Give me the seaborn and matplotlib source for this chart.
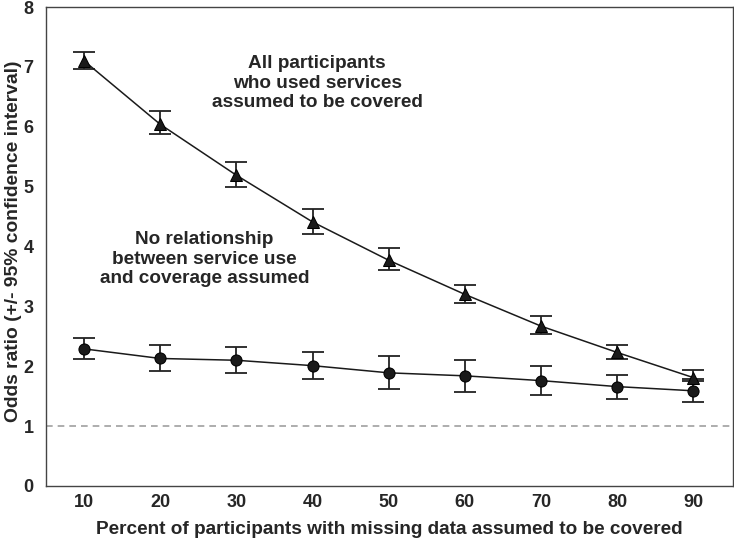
import matplotlib
matplotlib.use("Agg")
import matplotlib.pyplot as plt
from matplotlib import font_manager
import seaborn as sns
import pandas as pd
import numpy as np

# Data
pct = [10, 20, 30, 40, 50, 60, 70, 80, 90]
all_or = [7.10, 6.04, 5.19, 4.41, 3.77, 3.20, 2.67, 2.23, 1.81]
all_lo = [6.97, 5.88, 5.00, 4.21, 3.60, 3.05, 2.54, 2.12, 1.76]
all_hi = [7.25, 6.26, 5.41, 4.62, 3.97, 3.36, 2.84, 2.35, 1.93]
none_or = [2.29, 2.13, 2.10, 2.01, 1.89, 1.84, 1.76, 1.66, 1.59]
none_lo = [2.12, 1.92, 1.89, 1.78, 1.62, 1.57, 1.52, 1.46, 1.40]
none_hi = [2.47, 2.35, 2.32, 2.24, 2.17, 2.11, 2.00, 1.86, 1.79]
yticks = [0, 1, 2, 3, 4, 5, 6, 7, 8]

sns.set_theme(style="white")
plt.rcParams['font.family'] = ['Liberation Sans', 'DejaVu Sans']

names = {f.name for f in font_manager.fontManager.ttflist}
tick_family = ['Liberation Sans Narrow', 'Liberation Sans'] if 'Liberation Sans Narrow' in names else ['Liberation Sans']
tick_size = 14.5 if 'Liberation Sans Narrow' in names else 13

fig = plt.figure(figsize=(7.34, 5.45), dpi=100)
ax = fig.add_axes([46/734, 59/545, 687/734, 479/545])

df = pd.DataFrame({
    "pct": pct * 2,
    "or": all_or + none_or,
    "group": ["all"] * len(pct) + ["none"] * len(pct),
})

line_col = "#1a1a1a"
sns.lineplot(data=df, x="pct", y="or", style="group", markers={"all": "^", "none": "o"},
             dashes=False, color=line_col, linewidth=1.1, markersize=8,
             markeredgecolor="black", legend=False, ax=ax, zorder=3)

for y, lo, hi in [(all_or, all_lo, all_hi), (none_or, none_lo, none_hi)]:
    y = np.array(y)
    yerr = np.vstack([y - np.array(lo), np.array(hi) - y])
    ax.errorbar(pct, y, yerr=yerr, fmt="none", ecolor="#222222", elinewidth=1.3,
                capsize=8, capthick=1.3, zorder=2)

ax.axhline(1, color="#a0a0a0", linestyle=(0, (4, 3)), linewidth=1.2, zorder=1)

ax.set_xlim(5, 95.2)
ax.set_ylim(0, 8)
ax.set_xticks(pct)
ax.set_yticks(yticks)
ax.set_xticklabels([str(p) for p in pct], fontsize=tick_size, fontweight="bold", family=tick_family)
ax.set_yticklabels([str(t) for t in yticks], fontsize=tick_size, fontweight="bold", family=tick_family)
ax.tick_params(axis="both", length=0)
ax.tick_params(axis="y", pad=9)
ax.tick_params(axis="x", pad=6)

ax.set_xlabel("Percent of participants with missing data assumed to be covered",
              fontsize=13.7, fontweight="bold", labelpad=7)
ax.set_ylabel("Odds ratio (+/- 95% confidence interval)",
              fontsize=13.9, fontweight="bold")
ax.yaxis.set_label_coords(-0.035, 0.51)

for s in ax.spines.values():
    s.set_color("#444444")
    s.set_linewidth(1.0)
    s.set_visible(True)

ax.text(40.6, 6.73, "All participants\nwho used services\nassumed to be covered",
        ha="center", va="center", fontsize=13.7, fontweight="bold", linespacing=1.22)
ax.text(25.8, 3.79, "No relationship\nbetween service use\nand coverage assumed",
        ha="center", va="center", fontsize=13.7, fontweight="bold", linespacing=1.22)

fig.savefig("out.png", dpi=100)
